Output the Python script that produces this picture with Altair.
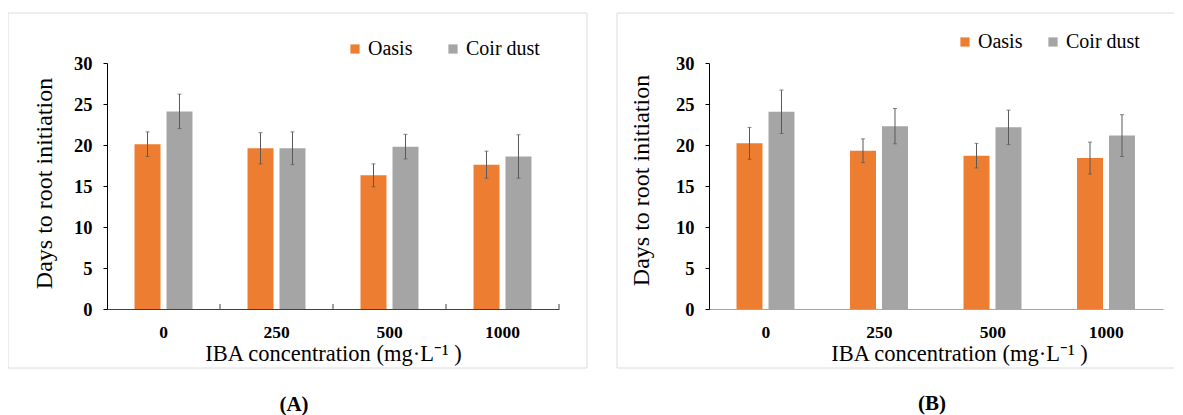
import altair as alt
import pandas as pd

# ---------------- data ----------------
concentrations = ["0", "250", "500", "1000"]
media = ["Oasis", "Coir dust"]

a_oasis_mean = [20.1, 19.6, 16.3, 17.6]
a_oasis_err = [1.5, 1.9, 1.4, 1.65]
a_coir_mean = [24.1, 19.6, 19.8, 18.6]
a_coir_err = [2.1, 2.0, 1.5, 2.65]

b_oasis_mean = [20.2, 19.3, 18.7, 18.4]
b_oasis_err = [1.95, 1.45, 1.5, 1.95]
b_coir_mean = [24.05, 22.3, 22.15, 21.15]
b_coir_err = [2.65, 2.15, 2.1, 2.55]

y_ticks = [0, 5, 10, 15, 20, 25, 30]
panel_labels = ["(A)", "(B)"]
x_title = "IBA concentration (mg·L⁻¹ )"
y_title = "Days to root initiation"
colors = ["#ED7D31", "#A5A5A5"]

SERIF = "Liberation Serif"
ERR = "#595959"
H = 246


def make_df(om, oe, cm, ce):
    rows = []
    for i, c in enumerate(concentrations):
        rows.append({"conc": c, "medium": media[0], "mean": om[i],
                     "lo": om[i] - oe[i], "hi": om[i] + oe[i]})
        rows.append({"conc": c, "medium": media[1], "mean": cm[i],
                     "lo": cm[i] - ce[i], "hi": cm[i] + ce[i]})
    return pd.DataFrame(rows)


def panel(df, width, leg_x, leg_y, col_pad, x_dom_color, title_x, ytitle_x,
          ytitle_y, frame_kind, frame_l, frame_r, label, label_x, label_y,
          x_ticks):
    xaxis = alt.Axis(title=x_title, labelAngle=0, ticks=False, tickSize=0,
                     domainColor=x_dom_color, domainWidth=1,
                     labelFont=SERIF, labelFontSize=17.5, labelFontWeight="bold",
                     labelColor="black", labelPadding=14,
                     titleFont=SERIF, titleFontSize=22.5, titleFontWeight="normal",
                     titleColor="black", titleX=title_x, titleY=44,
                     titleBaseline="middle", titleAlign="center")
    yaxis = alt.Axis(title=y_title, values=y_ticks, grid=False,
                     domainColor="black", domainWidth=1,
                     ticks=True, tickSize=4, tickColor="black",
                     labelFont=SERIF, labelFontSize=18.5, labelFontWeight="bold",
                     labelColor="black", labelPadding=11,
                     titleFont=SERIF, titleFontSize=24, titleFontWeight="normal",
                     titleColor="black", titleAngle=270, titleX=ytitle_x,
                     titleY=ytitle_y, titleBaseline="middle", titleAlign="center")

    def xdef(**kw):
        return alt.X("conc:N", sort=concentrations,
                     scale=alt.Scale(paddingInner=0, paddingOuter=0),
                     axis=xaxis, **kw)

    def ydef(field):
        return alt.Y(f"{field}:Q", scale=alt.Scale(domain=[0, 30], nice=False),
                     axis=yaxis)

    xoff = alt.XOffset("medium:N", sort=media,
                       scale=alt.Scale(paddingInner=0.1875, paddingOuter=0.86))

    base = alt.Chart(df)
    bars = base.mark_bar().encode(
        x=xdef(), xOffset=xoff, y=ydef("mean"),
        color=alt.Color("medium:N", sort=media,
                        scale=alt.Scale(domain=media, range=colors),
                        legend=alt.Legend(title=None, orient="none",
                                          legendX=leg_x, legendY=leg_y,
                                          direction="horizontal",
                                          symbolType="square", symbolSize=85,
                                          symbolStrokeWidth=0, symbolOpacity=1,
                                          labelFont=SERIF, labelFontSize=20,
                                          labelColor="black", labelOffset=3,
                                          columnPadding=col_pad, padding=0)),
    )
    rules = base.mark_rule(color=ERR, strokeWidth=1).encode(
        x=xdef(), xOffset=xoff, y=ydef("lo"), y2="hi:Q")
    cap_lo = base.mark_tick(color=ERR, size=4, thickness=1,
                            orient="horizontal").encode(
        x=xdef(), xOffset=xoff, y=ydef("lo"))
    cap_hi = base.mark_tick(color=ERR, size=4, thickness=1,
                            orient="horizontal").encode(
        x=xdef(), xOffset=xoff, y=ydef("hi"))

    one = alt.Chart(pd.DataFrame({"k": [0]}))
    layers = []
    if frame_kind == "rect":
        layers.append(one.mark_rect(fill="white", fillOpacity=0,
                                    stroke="#dcdcdc", strokeWidth=1).encode(
            x=alt.value(frame_l), x2=alt.value(frame_r),
            y=alt.value(-50), y2=alt.value(305)))
    else:
        for (xa, xb, ya, yb) in [(frame_l, frame_r, -50, -50),
                                 (frame_l, frame_l, -50, 305),
                                 (frame_l, frame_r, 305, 305)]:
            layers.append(one.mark_rule(color="#dcdcdc", strokeWidth=1).encode(
                x=alt.value(xa), x2=alt.value(xb),
                y=alt.value(ya), y2=alt.value(yb)))
    layers += [bars, rules, cap_lo, cap_hi]
    if x_ticks:
        tick_df = pd.DataFrame({"conc": concentrations})
        layers.append(alt.Chart(tick_df).mark_rule(color="#404040").encode(
            x=xdef(bandPosition=1), y=alt.value(H), y2=alt.value(H - 5)))
    layers.append(one.mark_text(font=SERIF, fontSize=21, fontWeight="bold",
                                color="black", align="center",
                                baseline="middle").encode(
        x=alt.value(label_x), y=alt.value(label_y), text=alt.value(label)))
    return alt.layer(*layers).properties(width=width, height=H)


df_a = make_df(a_oasis_mean, a_oasis_err, a_coir_mean, a_coir_err)
df_b = make_df(b_oasis_mean, b_oasis_err, b_coir_mean, b_coir_err)

pa = panel(df_a, 452, 238, -24, 30, "#404040", 226, -63, 120,
           "rect", -99, 480, panel_labels[0], 187, 342, True)
pb = panel(df_b, 454, 246, -31, 20, "#a6a6a6", 250, -68, 117,
           "rules", -92, 465, panel_labels[1], 223, 341, False)

chart = alt.hconcat(pa, pb, spacing=150, bounds="flush").resolve_scale(
    color="independent"
).properties(
    autosize=alt.AutoSizeParams(type="none"),
    padding={"left": 99, "top": 55, "right": 1067, "bottom": 352},
).configure_view(stroke="transparent")

chart.save("out.html", embed_options={"renderer": "svg", "actions": False})
